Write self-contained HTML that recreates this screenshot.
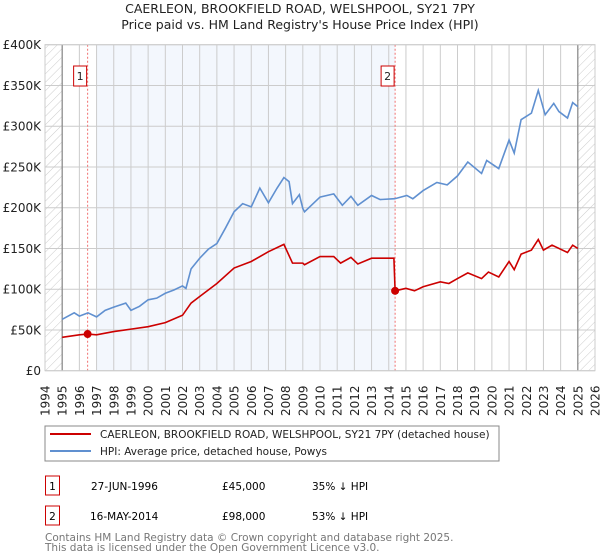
<!DOCTYPE html>
<html><head><meta charset="utf-8"><style>
body{margin:0;background:#fff;font-family:"DejaVu Sans","Liberation Sans",sans-serif;}
#wrap{position:relative;width:600px;height:560px;overflow:hidden}
svg text{font-family:"DejaVu Sans","Liberation Sans",sans-serif}
</style></head><body><div id="wrap">
<svg id="chart" width="600" height="560">
<defs><pattern id="hatch" width="6" height="6" patternUnits="userSpaceOnUse" patternTransform="rotate(45)"><line x1="0" y1="0" x2="0" y2="6" stroke="#ccc" stroke-width="1"/></pattern></defs>
<text x="300" y="13" text-anchor="middle" font-size="12.5" fill="#222">CAERLEON, BROOKFIELD ROAD, WELSHPOOL, SY21 7PY</text>
<text x="300" y="29" text-anchor="middle" font-size="12.5" fill="#222">Price paid vs. HM Land Registry's House Price Index (HPI)</text>
<g id="plot"></g>
<rect x="45" y="426" width="454" height="35" fill="#fff" stroke="#888"/>
<line x1="50" y1="434" x2="91" y2="434" stroke="#cc0000" stroke-width="2"/>
<text x="100" y="438" font-size="10.5" fill="#222">CAERLEON, BROOKFIELD ROAD, WELSHPOOL, SY21 7PY (detached house)</text>
<line x1="50" y1="451" x2="91" y2="451" stroke="#6090d0" stroke-width="2"/>
<text x="100" y="455" font-size="10.5" fill="#222">HPI: Average price, detached house, Powys</text>
<g>
<rect x="45.5" y="476" width="14" height="19" fill="#fff" stroke="#cc0000"/>
<text x="52.5" y="490" text-anchor="middle" font-size="10.5">1</text>
<text x="91" y="490" font-size="10.5">27-JUN-1996</text>
<text x="222" y="490" font-size="10.5">£45,000</text>
<text x="312" y="490" font-size="10.5">35% ↓ HPI</text></g>
<g>
<rect x="45.5" y="506" width="14" height="19" fill="#fff" stroke="#cc0000"/>
<text x="52.5" y="520" text-anchor="middle" font-size="10.5">2</text>
<text x="90" y="520" font-size="10.5">16-MAY-2014</text>
<text x="222" y="520" font-size="10.5">£98,000</text>
<text x="312" y="520" font-size="10.5">53% ↓ HPI</text></g>
<text x="45" y="541" font-size="10.5" fill="#777">Contains HM Land Registry data © Crown copyright and database right 2025.</text>
<text x="45" y="551" font-size="10.5" fill="#777">This data is licensed under the Open Government Licence v3.0.</text>
</svg></div>
<script>
const hpiYears=[1995,1995.7,1996,1996.5,1997,1997.5,1998,1998.7,1999,1999.5,2000,2000.5,2001,2001.5,2002,2002.2,2002.5,2003,2003.5,2004,2004.5,2005,2005.5,2006,2006.5,2007,2007.5,2007.9,2008.2,2008.4,2008.8,2009,2009.1,2010,2010.8,2011.3,2011.8,2012.2,2013,2013.5,2014.35,2015.05,2015.4,2016,2016.8,2017.4,2018,2018.6,2019.4,2019.7,2020.4,2021,2021.3,2021.7,2022.3,2022.7,2023.1,2023.6,2023.9,2024.4,2024.7,2025];
const hpiValues=[63,71,67,71,66,74,78,83,74,79,87,89,95,99,104,101,125,138,149,156,175,195,205,201,224,206,224,237,232,205,216,199,195,213,217,203,214,203,215,210,211,215,211,221,231,228,239,256,242,258,248,283,267,308,316,344,314,328,318,310,329,324];
const saleYears=[1995,1996,1996.48,1997,1998,1999,2000,2001,2002,2002.5,2003,2004,2005,2006,2007,2007.9,2008.4,2009,2009.1,2010,2010.8,2011.2,2011.8,2012.2,2013,2014.3,2014.37,2015,2015.5,2016,2017,2017.5,2018,2018.6,2019.4,2019.8,2020.4,2021,2021.3,2021.7,2022.3,2022.7,2023,2023.5,2024.4,2024.7,2025];
const saleValues=[41,44,45,44,48,51,54,59,68,83,91,107,126,134,146,155,132,132,130,140,140,132,139,131,138,138,98,101,98,103,109,107,113,120,113,121,115,134,124,143,148,161,148,154,145,154,150];
const yTicks=[0,50,100,150,200,250,300,350,400];
const yTickLabels=["£0","£50K","£100K","£150K","£200K","£250K","£300K","£350K","£400K"];
const xTicks=[1994,1995,1996,1997,1998,1999,2000,2001,2002,2003,2004,2005,2006,2007,2008,2009,2010,2011,2012,2013,2014,2015,2016,2017,2018,2019,2020,2021,2022,2023,2024,2025,2026];
const sales=[{n:"1",year:1996.48,value:45},{n:"2",year:2014.37,value:98}];
const L=45,R=595,T=44.7,B=370.7;
const x=y=>L+(y-1994)/32*(R-L);
const yv=v=>B-v/400*(B-T);
const NS="http://www.w3.org/2000/svg";
const g=document.getElementById('plot');
function mk(t,a,p){const e=document.createElementNS(NS,t);for(const k in a)e.setAttribute(k,a[k]);(p||g).appendChild(e);return e;}
let e;
e=mk('rect',{x:x(1997),y:T,width:x(2014.37)-x(1997),height:B-T,fill:'#eef3fc',opacity:0.7});


e=mk('rect',{x:L,y:T,width:x(1995)-L,height:B-T,fill:'url(#hatch)'});


e=mk('rect',{x:x(2025),y:T,width:R-x(2025),height:B-T,fill:'url(#hatch)'});


xTicks.forEach(t=>{e=mk('line',{x1:x(t),x2:x(t),y1:T,y2:B,stroke:'#ccc','stroke-width':1});


e=mk('text',{x:0,y:0,transform:`translate(${x(t)+4.5},416) rotate(-90)`,'font-size':12,fill:'#222'});e.textContent=t;

});
yTicks.forEach((t,i)=>{e=mk('line',{x1:L,x2:R,y1:yv(t),y2:yv(t),stroke:'#ccc','stroke-width':1});


e=mk('text',{x:41,y:yv(t)+4.5,'text-anchor':'end','font-size':12,fill:'#222'});e.textContent=yTickLabels[i];

});
[1995,2025].forEach(t=>{e=mk('line',{x1:x(t),x2:x(t),y1:T,y2:B,stroke:'#888','stroke-width':1.2});

});
sales.forEach(s=>{e=mk('line',{x1:x(s.year),x2:x(s.year),y1:T,y2:B,stroke:'#f07070','stroke-dasharray':'2,2','stroke-width':1});

});
e=mk('polyline',{points:hpiYears.map((yr,i)=>x(yr)+','+yv(hpiValues[i])).join(' '),fill:'none',stroke:'#6090d0','stroke-width':1.6});


e=mk('polyline',{points:saleYears.map((yr,i)=>x(yr)+','+yv(saleValues[i])).join(' '),fill:'none',stroke:'#cc0000','stroke-width':1.6});


sales.forEach(s=>{e=mk('circle',{cx:x(s.year),cy:yv(s.value),r:4,fill:'#cc0000'});


const bx=x(s.year)-14;
e=mk('rect',{x:bx,y:66,width:13,height:20,fill:'#fff',stroke:'#cc0000'});


e=mk('text',{x:bx+6.5,y:80,'text-anchor':'middle','font-size':11,fill:'#222'});e.textContent=s.n;

});
e=mk('rect',{x:L,y:T,width:R-L,height:B-T,fill:'none',stroke:'#ccc'});


</script></body></html>
